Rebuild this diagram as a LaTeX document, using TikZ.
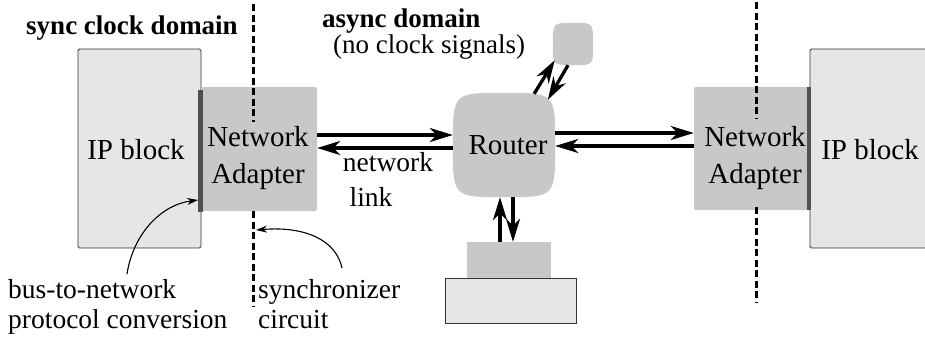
\documentclass[tikz,border=0pt]{standalone}
\usepackage{fontspec}
\setmainfont{Liberation Serif}
\usetikzlibrary{arrows.meta,calc}
\definecolor{lightfill}{HTML}{E6E6E6}
\definecolor{midfill}{HTML}{C8C8C8}
\definecolor{barcol}{HTML}{505050}
\definecolor{edgecol}{HTML}{333333}
\begin{document}
\begin{tikzpicture}[x=1pt,y=-1pt,
  ipbox/.style={draw=edgecol, line width=0.9pt, fill=lightfill, rounded corners=1.5pt, inner sep=0},
  adapter/.style={fill=midfill, rounded corners=2pt, inner sep=0},
  blob/.style={inner sep=0},
  portbar/.style={fill=barcol, inner sep=0, minimum width=4.5pt},
  boxlabel/.style={font=\fontsize{29}{36.5}\selectfont, align=center, inner sep=0},
  notetext/.style={font=\fontsize{27.5}{30}\selectfont, align=left, inner sep=0},
  titletext/.style={font=\fontsize{27}{30}\selectfont\bfseries, inner sep=0},
  netlink/.style={line width=3.3pt, -{Stealth[length=23pt,width=14pt,inset=7pt]}},
  boundary/.style={line width=3pt, dash pattern=on 7pt off 3.5pt},
  pointer/.style={line width=1.1pt, -{Stealth[length=11pt,width=7pt]}}]
\useasboundingbox (0,0) rectangle (925,341);
\clip (0,0) rectangle (925,341);

% left side: IP block with its network adapter
\node[ipbox, minimum width=123pt, minimum height=199pt] (ipL) at (139.5,148.5) {};
\node[adapter, minimum width=116pt, minimum height=124pt] (naL) at (259,149) {};
\node[portbar, minimum height=122pt] (barL) at (200.5,151) {};

% right side: network adapter with its IP block
\node[ipbox, minimum width=135pt, minimum height=199pt] (ipR) at (877.5,148.5) {};
\node[adapter, minimum width=115pt, minimum height=123pt] (naR) at (751.5,148.5) {};
\node[portbar, minimum height=123pt] (barR) at (809,148.5) {};

% router and neighbour stub: squircle outlines through the node extents
\node[blob, minimum width=102pt, minimum height=104pt] (router) at (504,145) {};
\node[blob, minimum width=40pt, minimum height=42pt] (small) at (573,44) {};
\foreach \n in {router,small}{
  \fill[midfill] (\n.north)
    .. controls (\n.north east) and (\n.north east) .. (\n.east)
    .. controls (\n.south east) and (\n.south east) .. (\n.south)
    .. controls (\n.south west) and (\n.south west) .. (\n.west)
    .. controls (\n.north west) and (\n.north west) .. (\n.north) -- cycle;
}

% block underneath the router
\node[adapter, rounded corners=0pt, minimum width=84pt, minimum height=36pt] (basetop) at (509,260) {};
\node[ipbox, rounded corners=0pt, minimum width=131pt, minimum height=45pt] (basebot) at (510.5,300.5) {};

% clock domain boundaries
\draw[boundary] (253,4) -- (253,122);
\draw[boundary] (253,211) -- (253,307);
\draw[boundary] (756,2) -- (756,119);
\draw[boundary] (756,207) -- (756,303);

% network links
\draw[netlink] (naL.east |- 0,135) -- (router.west |- 0,135);
\draw[netlink] (router.west |- 0,148) -- (naL.east |- 0,148);
\draw[netlink] (router.east |- 0,133) -- (naR.west |- 0,133);
\draw[netlink] (naR.west |- 0,146) -- (router.east |- 0,146);
\draw[netlink] (basetop.north -| 500,0) -- (router.south -| 500,0);
\draw[netlink] (router.south -| 513,0) -- (basetop.north -| 513,0);
\draw[netlink] ($(router.60)+(0,1)$) -- ($(small.south west)+(2,-5)$);
\draw[netlink] ($(small.south)+(-5,0)$) -- ($(router.50)+(0,7)$);

% labels
\node[titletext] (synct) at (132,28) {sync clock domain};
\node[notetext, font=\fontsize{27}{23.5}\selectfont, anchor=north west] (asynct) at (322,8.5)
  {\textbf{async domain}\\\hspace*{11pt}(no clock signals)};
\node[boxlabel] (ipLt) at (136,150) {IP block};
\node[boxlabel] (naLt) at (258,158) {Network\\Adapter};
\node[notetext] (netlbl) at (388,162) {network};
\node[notetext] (linklbl) at (371,197) {link};
\node[boxlabel] (routert) at (508,145) {Router};
\node[boxlabel] (naRt) at (755,158) {Network\\Adapter};
\node[boxlabel] (ipRt) at (870,150) {IP block};
\node[notetext, anchor=north west] (busnote) at (8,279) {bus-to-network\\protocol conversion};
\node[notetext, anchor=north west] (syncnote) at (258,279) {synchronizer\\circuit};

% annotation pointers
\coordinate (busfrom) at (127,274);
\coordinate (syncfrom) at (342,268);
\coordinate (synctarget) at (256,230);
\draw[pointer] (busfrom) .. controls (133,235) and (160,205) .. (barL.west |- 0,200);
\draw[pointer] (syncfrom) .. controls (336,240) and (305,226) .. (synctarget);
\end{tikzpicture}
\end{document}
